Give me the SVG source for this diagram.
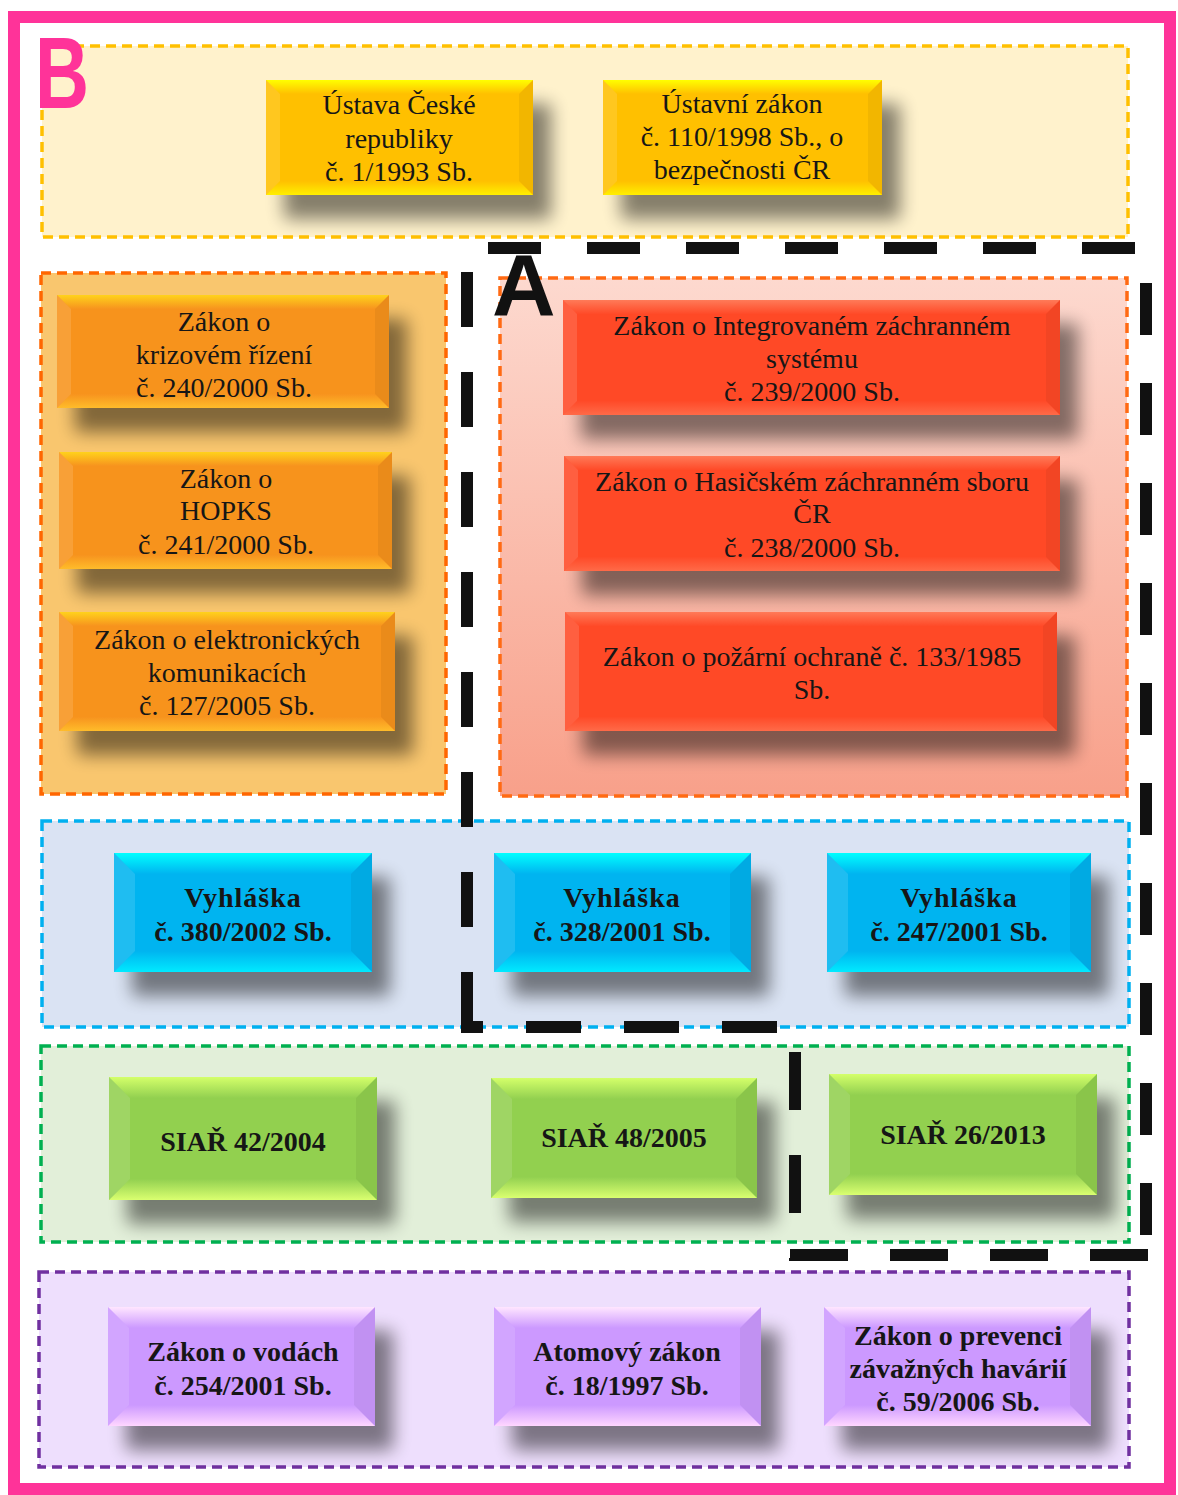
<svg xmlns="http://www.w3.org/2000/svg" width="1178" height="1495" viewBox="0 0 1178 1495">
<style>
.grp{stroke-width:3.5;stroke-dasharray:10 6}
.t{font-family:"Liberation Serif","Times New Roman",serif;font-size:28px;fill:#161616;text-anchor:middle}
.tb{font-weight:bold}
.bl{fill:#fff;opacity:.12}
.br{fill:#000;opacity:.05}
.ab{stroke:#111;stroke-width:12;fill:none}
</style>
<defs>
<filter id="ds" x="-15%" y="-30%" width="145%" height="200%">
<feGaussianBlur in="SourceAlpha" stdDeviation="9"/>
<feOffset dx="18" dy="24" result="o"/>
<feComponentTransfer><feFuncA type="linear" slope="0.48"/></feComponentTransfer>
<feMerge><feMergeNode/><feMergeNode in="SourceGraphic"/></feMerge>
</filter>
<linearGradient id="redBg" x1="0" y1="0" x2="0" y2="1"><stop offset="0" stop-color="#FDD9CF"/><stop offset="1" stop-color="#F8A08A"/></linearGradient>
<linearGradient id="yT" x1="0" y1="0" x2="0" y2="1"><stop offset="0" stop-color="#FFFF00"/><stop offset="1" stop-color="#FFC000"/></linearGradient>
<linearGradient id="yB" x1="0" y1="0" x2="0" y2="1"><stop offset="0" stop-color="#FFC000"/><stop offset="1" stop-color="#FFEF00"/></linearGradient>
<linearGradient id="oT" x1="0" y1="0" x2="0" y2="1"><stop offset="0" stop-color="#FFD21C"/><stop offset="1" stop-color="#F7931E"/></linearGradient>
<linearGradient id="oB" x1="0" y1="0" x2="0" y2="1"><stop offset="0" stop-color="#F7931E"/><stop offset="1" stop-color="#FFBC2A"/></linearGradient>
<linearGradient id="rT" x1="0" y1="0" x2="0" y2="1"><stop offset="0" stop-color="#FF7A58"/><stop offset="1" stop-color="#FF4A28"/></linearGradient>
<linearGradient id="rB" x1="0" y1="0" x2="0" y2="1"><stop offset="0" stop-color="#FF4A28"/><stop offset="1" stop-color="#FF6A48"/></linearGradient>
<linearGradient id="bT" x1="0" y1="0" x2="0" y2="1"><stop offset="0" stop-color="#00FFFF"/><stop offset="1" stop-color="#00B4F0"/></linearGradient>
<linearGradient id="bB" x1="0" y1="0" x2="0" y2="1"><stop offset="0" stop-color="#00B4F0"/><stop offset="1" stop-color="#00EAFF"/></linearGradient>
<linearGradient id="gT" x1="0" y1="0" x2="0" y2="1"><stop offset="0" stop-color="#D4FF6A"/><stop offset="1" stop-color="#92D050"/></linearGradient>
<linearGradient id="gB" x1="0" y1="0" x2="0" y2="1"><stop offset="0" stop-color="#92D050"/><stop offset="1" stop-color="#DAFF70"/></linearGradient>
<linearGradient id="pT" x1="0" y1="0" x2="0" y2="1"><stop offset="0" stop-color="#FFE6FF"/><stop offset="1" stop-color="#CC99FF"/></linearGradient>
<linearGradient id="pB" x1="0" y1="0" x2="0" y2="1"><stop offset="0" stop-color="#CC99FF"/><stop offset="1" stop-color="#FFD6FF"/></linearGradient>
</defs>
<rect width="1178" height="1495" fill="#fff"/>
<rect x="14" y="17" width="1156" height="1472" fill="none" stroke="#FF3399" stroke-width="12"/>

<g id="groups">
<rect id="grp-yellow" class="grp" x="42" y="46" width="1086" height="191" fill="#FFF2CC" stroke="#FFC000"/>
<rect id="grp-orange" class="grp" x="41" y="273" width="405" height="521" fill="#F9C66E" stroke="#FF6600"/>
<rect id="grp-red" class="grp" x="500" y="278" width="627" height="518" fill="url(#redBg)" stroke="#FF6A13"/>
<rect id="grp-blue" class="grp" x="42" y="821" width="1087" height="206" fill="#DAE3F3" stroke="#00B0F0"/>
<rect id="grp-green" class="grp" x="41" y="1046" width="1088" height="196" fill="#E2EFD9" stroke="#00B050"/>
<rect id="grp-purple" class="grp" x="39" y="1272" width="1090" height="195" fill="#EEDFFD" stroke="#7030A0"/>
</g>

<text x="35" y="108" font-family="Liberation Sans, Arial, sans-serif" font-weight="bold" font-size="102" fill="#FF3399" textLength="54" lengthAdjust="spacingAndGlyphs">B</text>

<g id="node-y1">
<rect x="266" y="80" width="267" height="115" fill="#FFC000" filter="url(#ds)"/>
<polygon points="266,80 533,80 519,94 280,94" fill="url(#yT)"/>
<polygon points="266,195 533,195 519,181 280,181" fill="url(#yB)"/>
<polygon class="bl" points="266,80 280,94 280,181 266,195"/>
<polygon class="br" points="533,80 519,94 519,181 533,195"/>
<text class="t" x="399" y="114">Ústava České</text>
<text class="t" x="399" y="148">republiky</text>
<text class="t" x="399" y="181">č. 1/1993 Sb.</text>
</g>
<g id="node-y2">
<rect x="603" y="80" width="279" height="115" fill="#FFC000" filter="url(#ds)"/>
<polygon points="603,80 882,80 868,94 617,94" fill="url(#yT)"/>
<polygon points="603,195 882,195 868,181 617,181" fill="url(#yB)"/>
<polygon class="bl" points="603,80 617,94 617,181 603,195"/>
<polygon class="br" points="882,80 868,94 868,181 882,195"/>
<text class="t" x="742" y="113">Ústavní zákon</text>
<text class="t" x="742" y="146">č. 110/1998 Sb., o</text>
<text class="t" x="742" y="179">bezpečnosti ČR</text>
</g>

<g id="node-o1">
<rect x="57" y="295" width="332" height="113" fill="#F7931E" filter="url(#ds)"/>
<polygon points="57,295 389,295 375,309 71,309" fill="url(#oT)"/>
<polygon points="57,408 389,408 375,394 71,394" fill="url(#oB)"/>
<polygon class="bl" points="57,295 71,309 71,394 57,408"/>
<polygon class="br" points="389,295 375,309 375,394 389,408"/>
<text class="t" x="224" y="331">Zákon o</text>
<text class="t" x="224" y="364">krizovém řízení</text>
<text class="t" x="224" y="397">č. 240/2000 Sb.</text>
</g>
<g id="node-o2">
<rect x="59" y="452" width="333" height="117" fill="#F7931E" filter="url(#ds)"/>
<polygon points="59,452 392,452 378,466 73,466" fill="url(#oT)"/>
<polygon points="59,569 392,569 378,555 73,555" fill="url(#oB)"/>
<polygon class="bl" points="59,452 73,466 73,555 59,569"/>
<polygon class="br" points="392,452 378,466 378,555 392,569"/>
<text class="t" x="226" y="488">Zákon o</text>
<text class="t" x="226" y="520">HOPKS</text>
<text class="t" x="226" y="554">č. 241/2000 Sb.</text>
</g>
<g id="node-o3">
<rect x="59" y="612" width="336" height="119" fill="#F7931E" filter="url(#ds)"/>
<polygon points="59,612 395,612 381,626 73,626" fill="url(#oT)"/>
<polygon points="59,731 395,731 381,717 73,717" fill="url(#oB)"/>
<polygon class="bl" points="59,612 73,626 73,717 59,731"/>
<polygon class="br" points="395,612 381,626 381,717 395,731"/>
<text class="t" x="227" y="649">Zákon o elektronických</text>
<text class="t" x="227" y="682">komunikacích</text>
<text class="t" x="227" y="715">č. 127/2005 Sb.</text>
</g>

<g id="node-r1">
<rect x="563" y="300" width="497" height="115" fill="#FF4A28" filter="url(#ds)"/>
<polygon points="563,300 1060,300 1046,314 577,314" fill="url(#rT)"/>
<polygon points="563,415 1060,415 1046,401 577,401" fill="url(#rB)"/>
<polygon class="bl" points="563,300 577,314 577,401 563,415"/>
<polygon class="br" points="1060,300 1046,314 1046,401 1060,415"/>
<text class="t" x="812" y="335">Zákon o Integrovaném záchranném</text>
<text class="t" x="812" y="368">systému</text>
<text class="t" x="812" y="401">č. 239/2000 Sb.</text>
</g>
<g id="node-r2">
<rect x="564" y="456" width="496" height="115" fill="#FF4A28" filter="url(#ds)"/>
<polygon points="564,456 1060,456 1046,470 578,470" fill="url(#rT)"/>
<polygon points="564,571 1060,571 1046,557 578,557" fill="url(#rB)"/>
<polygon class="bl" points="564,456 578,470 578,557 564,571"/>
<polygon class="br" points="1060,456 1046,470 1046,557 1060,571"/>
<text class="t" x="812" y="491">Zákon o Hasičském záchranném sboru</text>
<text class="t" x="812" y="523">ČR</text>
<text class="t" x="812" y="557">č. 238/2000 Sb.</text>
</g>
<g id="node-r3">
<rect x="565" y="612" width="492" height="119" fill="#FF4A28" filter="url(#ds)"/>
<polygon points="565,612 1057,612 1043,626 579,626" fill="url(#rT)"/>
<polygon points="565,731 1057,731 1043,717 579,717" fill="url(#rB)"/>
<polygon class="bl" points="565,612 579,626 579,717 565,731"/>
<polygon class="br" points="1057,612 1043,626 1043,717 1057,731"/>
<text class="t" x="812" y="666">Zákon o požární ochraně č. 133/1985</text>
<text class="t" x="812" y="699">Sb.</text>
</g>

<g id="node-b1">
<rect x="114" y="853" width="258" height="119" fill="#00B4F0" filter="url(#ds)"/>
<polygon points="114,853 372,853 351,874 135,874" fill="url(#bT)"/>
<polygon points="114,972 372,972 351,951 135,951" fill="url(#bB)"/>
<polygon class="bl" points="114,853 135,874 135,951 114,972"/>
<polygon class="br" points="372,853 351,874 351,951 372,972"/>
<text class="t tb" x="243" y="907" letter-spacing="1">Vyhláška</text>
<text class="t tb" x="243" y="941">č. 380/2002 Sb.</text>
</g>
<g id="node-b2">
<rect x="494" y="853" width="257" height="119" fill="#00B4F0" filter="url(#ds)"/>
<polygon points="494,853 751,853 730,874 515,874" fill="url(#bT)"/>
<polygon points="494,972 751,972 730,951 515,951" fill="url(#bB)"/>
<polygon class="bl" points="494,853 515,874 515,951 494,972"/>
<polygon class="br" points="751,853 730,874 730,951 751,972"/>
<text class="t tb" x="622" y="907" letter-spacing="1">Vyhláška</text>
<text class="t tb" x="622" y="941">č. 328/2001 Sb.</text>
</g>
<g id="node-b3">
<rect x="827" y="853" width="264" height="119" fill="#00B4F0" filter="url(#ds)"/>
<polygon points="827,853 1091,853 1070,874 848,874" fill="url(#bT)"/>
<polygon points="827,972 1091,972 1070,951 848,951" fill="url(#bB)"/>
<polygon class="bl" points="827,853 848,874 848,951 827,972"/>
<polygon class="br" points="1091,853 1070,874 1070,951 1091,972"/>
<text class="t tb" x="959" y="907" letter-spacing="1">Vyhláška</text>
<text class="t tb" x="959" y="941">č. 247/2001 Sb.</text>
</g>

<g id="node-g1">
<rect x="109" y="1077" width="268" height="123" fill="#92D050" filter="url(#ds)"/>
<polygon points="109,1077 377,1077 356,1098 130,1098" fill="url(#gT)"/>
<polygon points="109,1200 377,1200 356,1179 130,1179" fill="url(#gB)"/>
<polygon class="bl" points="109,1077 130,1098 130,1179 109,1200"/>
<polygon class="br" points="377,1077 356,1098 356,1179 377,1200"/>
<text class="t tb" x="243" y="1151">SIAŘ 42/2004</text>
</g>
<g id="node-g2">
<rect x="491" y="1078" width="266" height="120" fill="#92D050" filter="url(#ds)"/>
<polygon points="491,1078 757,1078 736,1099 512,1099" fill="url(#gT)"/>
<polygon points="491,1198 757,1198 736,1177 512,1177" fill="url(#gB)"/>
<polygon class="bl" points="491,1078 512,1099 512,1177 491,1198"/>
<polygon class="br" points="757,1078 736,1099 736,1177 757,1198"/>
<text class="t tb" x="624" y="1147">SIAŘ 48/2005</text>
</g>
<g id="node-g3">
<rect x="829" y="1074" width="268" height="121" fill="#92D050" filter="url(#ds)"/>
<polygon points="829,1074 1097,1074 1076,1095 850,1095" fill="url(#gT)"/>
<polygon points="829,1195 1097,1195 1076,1174 850,1174" fill="url(#gB)"/>
<polygon class="bl" points="829,1074 850,1095 850,1174 829,1195"/>
<polygon class="br" points="1097,1074 1076,1095 1076,1174 1097,1195"/>
<text class="t tb" x="963" y="1144">SIAŘ 26/2013</text>
</g>

<g id="node-p1">
<rect x="108" y="1307" width="267" height="119" fill="#CC99FF" filter="url(#ds)"/>
<polygon points="108,1307 375,1307 354,1328 129,1328" fill="url(#pT)"/>
<polygon points="108,1426 375,1426 354,1405 129,1405" fill="url(#pB)"/>
<polygon class="bl" points="108,1307 129,1328 129,1405 108,1426"/>
<polygon class="br" points="375,1307 354,1328 354,1405 375,1426"/>
<text class="t tb" x="243" y="1361">Zákon o vodách</text>
<text class="t tb" x="243" y="1395">č. 254/2001 Sb.</text>
</g>
<g id="node-p2">
<rect x="494" y="1307" width="267" height="119" fill="#CC99FF" filter="url(#ds)"/>
<polygon points="494,1307 761,1307 740,1328 515,1328" fill="url(#pT)"/>
<polygon points="494,1426 761,1426 740,1405 515,1405" fill="url(#pB)"/>
<polygon class="bl" points="494,1307 515,1328 515,1405 494,1426"/>
<polygon class="br" points="761,1307 740,1328 740,1405 761,1426"/>
<text class="t tb" x="627" y="1361">Atomový zákon</text>
<text class="t tb" x="627" y="1395">č. 18/1997 Sb.</text>
</g>
<g id="node-p3">
<rect x="824" y="1307" width="267" height="119" fill="#CC99FF" filter="url(#ds)"/>
<polygon points="824,1307 1091,1307 1070,1328 845,1328" fill="url(#pT)"/>
<polygon points="824,1426 1091,1426 1070,1405 845,1405" fill="url(#pB)"/>
<polygon class="bl" points="824,1307 845,1328 845,1405 824,1426"/>
<polygon class="br" points="1091,1307 1070,1328 1070,1405 1091,1426"/>
<text class="t tb" x="958" y="1345">Zákon o prevenci</text>
<text class="t tb" x="958" y="1378">závažných havárií</text>
<text class="t tb" x="958" y="1411">č. 59/2006 Sb.</text>
</g>

<g id="connectors">
<g id="boundary-A">
<line class="ab" x1="488" y1="248" x2="1135" y2="248" stroke-dasharray="53 46"/>
<line class="ab" x1="1146" y1="283" x2="1146" y2="1261" stroke-dasharray="52 48"/>
<line class="ab" x1="790" y1="1255" x2="1152" y2="1255" stroke-dasharray="58 42"/>
<line class="ab" x1="795" y1="1052" x2="795" y2="1261" stroke-dasharray="58 45"/>
<line class="ab" x1="777" y1="1027" x2="461" y2="1027" stroke-dasharray="55 43"/>
<line class="ab" x1="467" y1="272" x2="467" y2="1033" stroke-dasharray="55 45"/>
</g>
</g>
<text x="492" y="315" font-family="Liberation Sans, Arial, sans-serif" font-weight="bold" font-size="88" fill="#111">A</text>
</svg>
